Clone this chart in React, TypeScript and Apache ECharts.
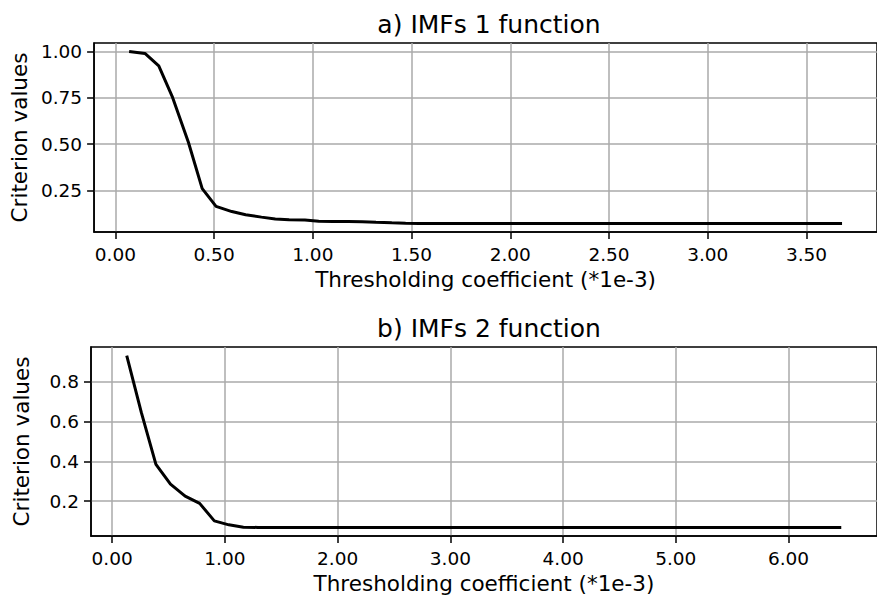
import React, { useEffect, useRef } from "react";
import * as echarts from "echarts";

const titleA = "a) IMFs 1 function";
const titleB = "b) IMFs 2 function";
const xName = "Thresholding coefficient (*1e-3)";
const yName = "Criterion values";

const xTicksA = [0, 0.5, 1.0, 1.5, 2.0, 2.5, 3.0, 3.5];
const yTicksA = [0.25, 0.5, 0.75, 1.0];
const xTicksB = [0, 1, 2, 3, 4, 5, 6];
const yTicksB = [0.2, 0.4, 0.6, 0.8];

const xA = [
  0.07, 0.15, 0.22, 0.29, 0.37, 0.44, 0.51, 0.59, 0.66, 0.74,
  0.81, 0.88, 0.96, 1.03, 1.10, 1.18, 1.25, 1.32, 1.40, 1.47,
  1.54, 1.62, 1.69, 1.77, 1.84, 1.91, 1.99, 2.06, 2.13, 2.21,
  2.28, 2.35, 2.43, 2.50, 2.57, 2.65, 2.72, 2.79, 2.87, 2.94,
  3.01, 3.09, 3.16, 3.24, 3.31, 3.38, 3.46, 3.53, 3.60, 3.68,
];
const yA = [
  1.0, 0.99, 0.923, 0.752, 0.51, 0.259, 0.163, 0.135, 0.118, 0.105,
  0.095, 0.091, 0.09, 0.082, 0.081, 0.081, 0.08, 0.077, 0.074, 0.072,
  0.071, 0.071, 0.071, 0.071, 0.071, 0.071, 0.071, 0.071, 0.071, 0.071,
  0.071, 0.071, 0.071, 0.071, 0.071, 0.071, 0.071, 0.071, 0.071, 0.071,
  0.071, 0.071, 0.071, 0.071, 0.071, 0.071, 0.071, 0.071, 0.071, 0.071,
];

const xB = [
  0.129, 0.259, 0.388, 0.517, 0.647, 0.776, 0.906, 1.035, 1.164, 1.294,
  1.423, 1.552, 1.682, 1.811, 1.94, 2.07, 2.199, 2.328, 2.458, 2.587,
  2.717, 2.846, 2.975, 3.105, 3.234, 3.363, 3.493, 3.622, 3.751, 3.881,
  4.01, 4.14, 4.269, 4.398, 4.528, 4.657, 4.786, 4.916, 5.045, 5.174,
  5.304, 5.433, 5.562, 5.692, 5.821, 5.951, 6.08, 6.209, 6.339, 6.468,
];
const yB = [
  0.933, 0.645, 0.385, 0.285, 0.225, 0.188, 0.1, 0.08, 0.068, 0.067,
  0.067, 0.067, 0.067, 0.067, 0.067, 0.067, 0.067, 0.067, 0.067, 0.067,
  0.067, 0.067, 0.067, 0.067, 0.067, 0.067, 0.067, 0.067, 0.067, 0.067,
  0.067, 0.067, 0.067, 0.067, 0.067, 0.067, 0.067, 0.067, 0.067, 0.067,
  0.067, 0.067, 0.067, 0.067, 0.067, 0.067, 0.067, 0.067, 0.067, 0.067,
];

const FONT = "DejaVu Sans";
const GRID_COLOR = "#aaaaaa";

function xAxisCfg(gridIndex: number, min: number, max: number, ticks: number[]) {
  return {
    type: "value",
    gridIndex,
    min,
    max,
    name: xName,
    nameLocation: "middle",
    nameGap: 36,
    nameTextStyle: { fontFamily: FONT, fontSize: 21.5, color: "#000" },
    axisLine: { show: true, onZero: false, lineStyle: { color: "#000", width: 1.5 } },
    axisTick: { show: true, length: 7, customValues: ticks, lineStyle: { color: "#000", width: 1.5 } },
    axisLabel: {
      show: true,
      customValues: ticks,
      margin: 13,
      fontFamily: FONT,
      fontSize: 18.5,
      color: "#000",
      formatter: (v: number) => v.toFixed(2),
    },
    splitLine: { show: true, lineStyle: { color: GRID_COLOR, width: 1.5 } },
  };
}

function yAxisCfg(gridIndex: number, min: number, max: number, ticks: number[], digits: number) {
  return {
    type: "value",
    gridIndex,
    min,
    max,
    name: yName,
    nameLocation: "middle",
    nameGap: 59,
    nameTextStyle: { fontFamily: FONT, fontSize: 21.5, color: "#000" },
    axisLine: { show: true, onZero: false, lineStyle: { color: "#000", width: 1.5 } },
    axisTick: { show: true, length: 7, customValues: ticks, lineStyle: { color: "#000", width: 1.5 } },
    axisLabel: {
      show: true,
      customValues: ticks,
      margin: 12,
      fontFamily: FONT,
      fontSize: 18.5,
      color: "#000",
      formatter: (v: number) => v.toFixed(digits),
    },
    splitLine: { show: true, lineStyle: { color: GRID_COLOR, width: 1.5 } },
  };
}

export default function App() {
  const ref = useRef<HTMLDivElement>(null);
  useEffect(() => {
    if (!ref.current) return;
    const chart = echarts.init(ref.current, null, { renderer: "svg" });
    chart.setOption({
      animation: false,
      backgroundColor: "#fff",
      title: [
        {
          text: titleA,
          left: 489,
          textAlign: "center",
          top: 12,
          padding: 0,
          textStyle: { fontFamily: FONT, fontSize: 25, fontWeight: "normal", color: "#000" },
        },
        {
          text: titleB,
          left: 489,
          textAlign: "center",
          top: 316,
          padding: 0,
          textStyle: { fontFamily: FONT, fontSize: 25, fontWeight: "normal", color: "#000" },
        },
      ],
      grid: [
        { left: 91, top: 43, width: 796, height: 189, show: true, borderColor: "#000", borderWidth: 1.5, backgroundColor: "transparent" },
        { left: 91, top: 347, width: 796, height: 190, show: true, borderColor: "#000", borderWidth: 1.5, backgroundColor: "transparent" },
      ],
      xAxis: [
        xAxisCfg(0, -0.1075, 3.857, xTicksA),
        xAxisCfg(1, -0.188, 6.785, xTicksB),
      ],
      yAxis: [
        yAxisCfg(0, 0.0245, 1.0465, yTicksA, 2),
        yAxisCfg(1, 0.0237, 0.976, yTicksB, 1),
      ],
      series: [
        {
          type: "line",
          xAxisIndex: 0,
          yAxisIndex: 0,
          data: xA.map((x, i) => [x, yA[i]]),
          showSymbol: false,
          lineStyle: { color: "#000", width: 3 },
          itemStyle: { color: "#000" },
        },
        {
          type: "line",
          xAxisIndex: 1,
          yAxisIndex: 1,
          data: xB.map((x, i) => [x, yB[i]]),
          showSymbol: false,
          lineStyle: { color: "#000", width: 3 },
          itemStyle: { color: "#000" },
        },
      ],
    });
    return () => chart.dispose();
  }, []);
  return (
    <div
      ref={ref}
      style={{ position: "absolute", left: 0, top: 0, width: 877, height: 595 }}
    />
  );
}
